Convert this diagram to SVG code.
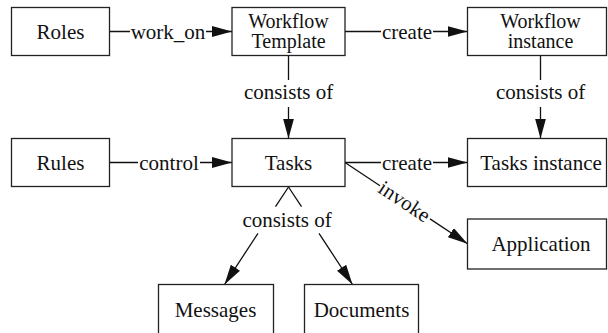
<svg xmlns="http://www.w3.org/2000/svg" width="608" height="333" viewBox="0 0 608 333">
  <style>
    .box { fill: #ffffff; stroke: #222222; stroke-width: 1.3; }
    .lbl { font-family: "Liberation Serif", "DejaVu Serif", serif; font-size: 21px; fill: #111111; text-anchor: middle; }
    .two { font-size: 20px; }
    .edge { fill: none; stroke: #111111; stroke-width: 1.3; marker-end: url(#arrow); }
  </style>
  <defs>
    <marker id="arrow" markerUnits="userSpaceOnUse" markerWidth="20" markerHeight="11" refX="20" refY="5.5" orient="auto">
      <path d="M0,0 L20,5.5 L0,11 z" fill="#111111"/>
    </marker>
  </defs>
  <rect width="608" height="333" fill="#ffffff"/>

  <g id="connectors">
    <path class="edge" d="M109.5,31.5 H130 M206,31.5 H232"/>
    <text class="lbl" x="168" y="39">work_on</text>

    <path class="edge" d="M345,31.5 H381 M433,31.5 H467.5"/>
    <text class="lbl" x="407" y="39">create</text>

    <path class="edge" d="M288.5,55.5 V80 M288.5,107 V138.5"/>
    <text class="lbl" x="288.5" y="99">consists of</text>

    <path class="edge" d="M540.5,55.5 V80 M540.5,107 V138.5"/>
    <text class="lbl" x="540.5" y="99">consists of</text>

    <path class="edge" d="M109.5,162.5 H138 M200,162.5 H232"/>
    <text class="lbl" x="169" y="170">control</text>

    <path class="edge" d="M345,162.5 H381 M433,162.5 H467.5"/>
    <text class="lbl" x="407" y="170">create</text>

    <path class="edge" d="M345,162.5 L380,185.7 M430,218.9 L467.5,243.7"/>
    <text class="lbl" x="404.5" y="208.5" transform="rotate(33.5 404.5 201.5)">invoke</text>

    <path class="edge" d="M288.5,187 L275.5,206.7 M258,233.3 L224.5,284.5"/>
    <path class="edge" d="M288.5,187 L301.5,206.7 M319,233.3 L352.5,284.5"/>
    <text class="lbl" x="287" y="226.7">consists of</text>
  </g>

  <g id="roles">
    <rect class="box" x="11.5" y="7.5" width="98" height="48"/>
    <text class="lbl" x="60.5" y="39">Roles</text>
  </g>
  <g id="workflow-template">
    <rect class="box" x="232" y="7.5" width="113" height="48"/>
    <text class="lbl two" x="288.5" y="27.5">Workflow</text>
    <text class="lbl two" x="288.5" y="47.5">Template</text>
  </g>
  <g id="workflow-instance">
    <rect class="box" x="467.5" y="7.5" width="139" height="48"/>
    <text class="lbl two" x="540.5" y="27.5">Workflow</text>
    <text class="lbl two" x="540.5" y="47.5">instance</text>
  </g>
  <g id="rules">
    <rect class="box" x="11.5" y="138.5" width="98" height="48"/>
    <text class="lbl" x="60.5" y="170">Rules</text>
  </g>
  <g id="tasks">
    <rect class="box" x="232" y="138.5" width="113" height="48"/>
    <text class="lbl" x="288.5" y="170">Tasks</text>
  </g>
  <g id="tasks-instance">
    <rect class="box" x="467.5" y="138.5" width="139" height="48"/>
    <text class="lbl" x="541" y="170">Tasks instance</text>
  </g>
  <g id="application">
    <rect class="box" x="467.5" y="219" width="139" height="50"/>
    <text class="lbl" x="541" y="251">Application</text>
  </g>
  <g id="messages">
    <rect class="box" x="158.5" y="284.5" width="115" height="60"/>
    <text class="lbl" x="215.5" y="316.7">Messages</text>
  </g>
  <g id="documents">
    <rect class="box" x="304.5" y="284.5" width="114" height="60"/>
    <text class="lbl" x="361.5" y="316.7">Documents</text>
  </g>
</svg>
